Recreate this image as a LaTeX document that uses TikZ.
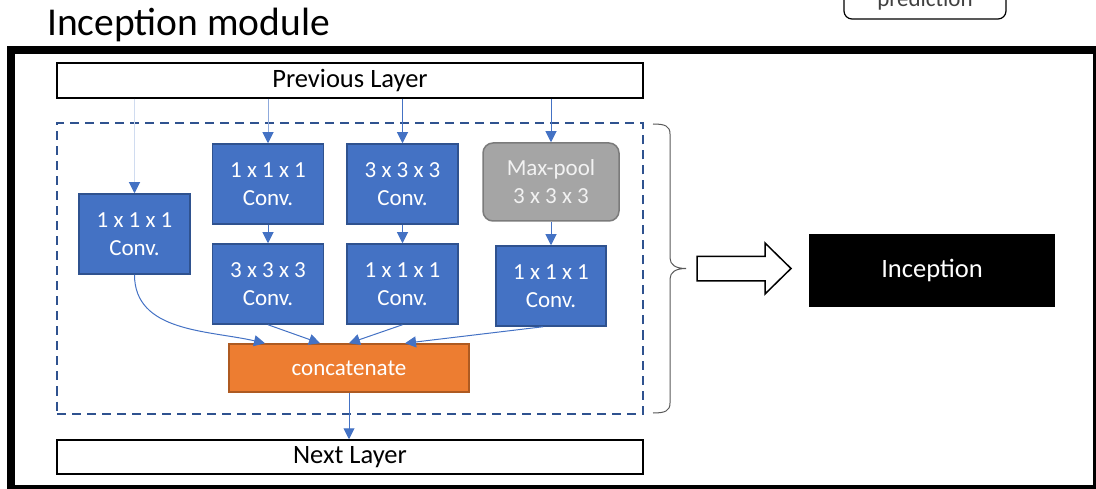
\documentclass[tikz,border=0pt]{standalone}
\usepackage{fontspec}
\setmainfont{Carlito}
\usepackage{tikz}
\usetikzlibrary{arrows.meta, positioning}
\definecolor{convblue}{RGB}{68,114,196}
\definecolor{convedge}{RGB}{47,82,143}
\definecolor{catorange}{RGB}{237,125,49}
\definecolor{catedge}{RGB}{174,90,33}
\definecolor{poolgray}{RGB}{165,165,165}
\definecolor{pooledge}{RGB}{123,123,123}
\definecolor{bracegray}{RGB}{89,89,89}
\tikzset{
  conv/.style={draw=convedge, fill=convblue, line width=1.5pt, text=white, align=center,
    minimum width=111pt, minimum height=80pt, inner sep=0pt, font=\fontsize{23}{28}\selectfont},
  pool/.style={conv, draw=pooledge, fill=poolgray, text=white!95!black, rounded corners=10pt,
    minimum width=136pt, minimum height=78pt},
  layer/.style={draw=black, line width=1.5pt, fill=white, minimum width=586pt, minimum height=35pt,
    inner sep=0pt, font=\fontsize{26.5}{30}\selectfont},
  flow/.style={draw=convblue, line width=1pt, -{Triangle[length=11pt, width=11pt]}},
}

\begin{document}
\begin{tikzpicture}[x=1pt, y=-1pt]
  \clip (0,0) rectangle (1096,489);

  % Title, frame and the cut-off box above
  \node[anchor=base west, inner sep=0pt, font=\fontsize{39.5}{44}\selectfont] (title) at (47,36) {Inception module};
  \draw[line width=8pt] (11,50) rectangle (1097,489);
  \node[draw, line width=1.2pt, rounded corners=8pt, minimum width=162pt, minimum height=50pt] (pred) at (925,-6) {};
  \node[anchor=base, inner sep=0pt, text=black!75, font=\fontsize{23}{26}\selectfont] (predlabel) at (925,7) {prediction};

  % Module outline and layers
  \node[draw=convedge, line width=2pt, dash pattern=on 9pt off 6pt, minimum width=586pt, minimum height=290pt] (module) at (350,268.5) {};
  \node[layer] (prev) at (350,80.5) {Previous Layer};
  \node[layer, minimum height=34pt] (next) at (350,457) {Next Layer};

  % Branches
  \node[conv] (c1) at (134.5,234) {1 x 1 x 1\\Conv.};
  \node[conv] (c2a) at (268,184) {1 x 1 x 1\\Conv.};
  \node[conv] (c2b) at (268,284) {3 x 3 x 3\\Conv.};
  \node[conv] (c3a) at (402.5,184) {3 x 3 x 3\\Conv.};
  \node[conv] (c3b) at (402.5,284) {1 x 1 x 1\\Conv.};
  \node[pool] (pool) at (551,182) {Max-pool\\3 x 3 x 3};
  \node[conv, minimum width=110pt] (c4) at (551,286) {1 x 1 x 1\\Conv.};
  \node[conv, draw=catedge, fill=catorange, minimum width=240pt, minimum height=48pt] (cat) at (349,368) {concatenate};

  % Inputs from the previous layer
  \draw[flow, draw=convblue!25, -{Triangle[length=11pt, width=11pt, color=convblue]}] (prev.south -| c1) -- (c1.north);
  \draw[flow, draw=convblue!60, -{Triangle[length=11pt, width=11pt, color=convblue]}] (prev.south -| c2a) -- (c2a.north);
  \draw[flow] (prev.south -| c3a) -- (c3a.north);
  \draw[flow] (prev.south -| pool) -- (pool.north);

  % Inside the branches
  \draw[flow] (c2a) -- (c2b);
  \draw[flow] (c3a) -- (c3b);
  \draw[flow] (pool) -- (c4);

  % Into concatenate and out
  \draw[flow] (c1.south) to[out=-90, in=167] ([xshift=-84pt]cat.north);
  \draw[flow] (c2b.south) -- ([xshift=-29pt]cat.north);
  \draw[flow] (c3b.south) -- (cat.north);
  \draw[flow] ([xshift=-8pt]c4.south) -- ([xshift=56pt]cat.north);
  \draw[flow] (cat.south) -- (cat.south |- next.north);

  % Brace and block arrow
  \draw[bracegray, line width=1pt] (653,124) .. controls (665,124) and (670,126) .. (670,134)
    -- (670,258) .. controls (670,265) and (676,268.5) .. (686,268.5)
    .. controls (676,268.5) and (670,272) .. (670,279)
    -- (670,403) .. controls (670,411) and (665,413) .. (653,413);
  \draw[line width=1.5pt, fill=white, line join=miter] (697,256.5) -- (765,256.5) -- (765,243)
    -- (791,268.5) -- (765,294) -- (765,281) -- (697,281) -- cycle;

  % Collapsed block
  \node[fill=black, text=white, minimum width=246pt, minimum height=73pt,
    font=\fontsize{26.5}{30}\selectfont] (incep) at (932,270.5) {Inception};
\end{tikzpicture}
\end{document}
